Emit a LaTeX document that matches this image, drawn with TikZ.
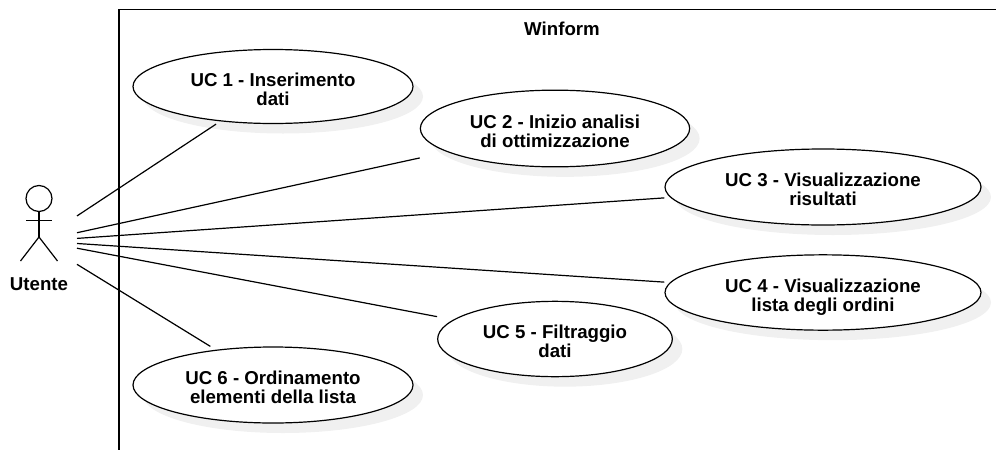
\documentclass[tikz,border=0pt]{standalone}
\usepackage{fontspec}
\setmainfont{Liberation Sans}
\usetikzlibrary{shapes,shapes.geometric,shadows,positioning,fit}
\tikzset{
  usecase/.style={ellipse, draw, fill=white, align=center, inner sep=0pt, line width=0.9pt, font=\labelfont, text depth=-3pt,
      drop shadow={shadow xshift=7.5pt, shadow yshift=-7.5pt, fill=black!6, opacity=1}},
  ucbox/.style={rectangle, inner sep=0pt, outer sep=0pt},
  actorbox/.style={rectangle, minimum width=57pt, minimum height=84pt, inner sep=0pt, outer sep=0pt},
  label/.style={font=\labelfont, inner sep=0pt},
  link/.style={line width=0.9pt}
}
\newcommand{\labelfont}{\fontsize{14}{14.5}\selectfont\bfseries}
\newcommand{\uclines}[2]{\rule{0pt}{13.8pt}#1\\#2}
\begin{document}
\begin{tikzpicture}[x=0.75pt,y=-0.75pt,line width=0.9pt]
    \useasboundingbox (0,0) rectangle (996,450);
    \coordinate (TR) at (996,9.5);
    \coordinate (TL) at (119,9.5);
    \coordinate (BL) at (119,450);
    \draw (TR) -- (TL) -- (BL);
    \node (W) [label] at (562,29) {Winform};
    \node (UC1) [usecase,minimum width=210pt,minimum height=55.5pt] at (273,86.5) {\uclines{UC 1 - Inserimento}{dati}};
    \node (UC2) [usecase,minimum width=202pt,minimum height=57.5pt] at (555,128.5) {\uclines{UC 2 - Inizio analisi}{di ottimizzazione}};
    \node (UC3) [usecase,minimum width=237pt,minimum height=57pt] at (823,187) {\uclines{UC 3 - Visualizzazione}{risultati}};
    \node (UC4) [usecase,minimum width=237pt,minimum height=56.5pt] at (823,292.5) {\uclines{UC 4 - Visualizzazione}{lista degli ordini}};
    \node (UC5) [usecase,minimum width=176pt,minimum height=56.5pt] at (555,339) {\uclines{UC 5 - Filtraggio}{dati}};
    \node (UC6) [usecase,minimum width=210pt,minimum height=57pt] at (273,385) {\uclines{UC 6 - Ordinamento}{elementi della lista}};
    % stick figure
    \node (A) [actorbox] at (39,241) {};
    \node (H) [circle,draw,minimum size=19.5pt,inner sep=0pt,outer sep=0pt] at (39,198.5) {};
    \coordinate (N) at (39,237);
    \coordinate (LA) at (26,220.5);
    \coordinate (RA) at (52,220.5);
    \coordinate (LL) at (20.5,261);
    \coordinate (RL) at (57.5,261);
    \draw (H) -- (N);
    \draw (LA) -- (RA);
    \draw (LL) -- (N) -- (RL);
    \node (U) [label] at (39,284) {Utente};
    \foreach \uc in {UC1,UC2,UC3,UC4,UC5,UC6}{
        \node (B\uc) [ucbox,fit=(\uc)] {};
        \draw [link] (A) -- (B\uc);
    }
\end{tikzpicture}
\end{document}
